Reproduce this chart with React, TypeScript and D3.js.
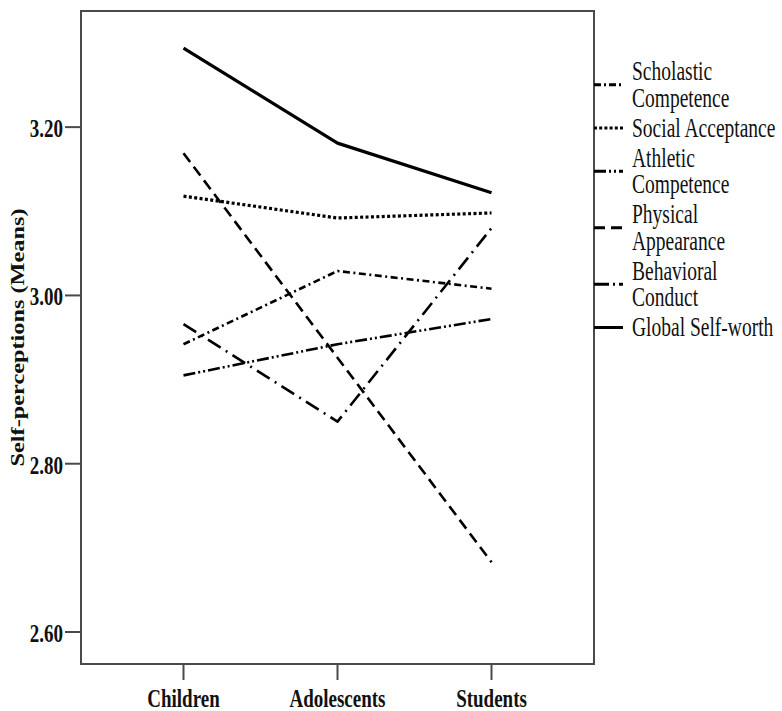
import React from "react";
import * as d3 from "d3";

const groups = ["Children", "Adolescents", "Students"];
const scholastic = [2.942, 3.029, 3.008];
const social = [3.118, 3.092, 3.098];
const athletic = [2.905, 2.942, 2.972];
const physical = [3.169, 2.926, 2.683];
const behavioral = [2.966, 2.85, 3.08];
const globalSelf = [3.294, 3.181, 3.122];
const yTicks = [2.6, 2.8, 3.0, 3.2];
const legendLabels = [
  ["Scholastic", "Competence"],
  ["Social Acceptance"],
  ["Athletic", "Competence"],
  ["Physical", "Appearance"],
  ["Behavioral", "Conduct"],
  ["Global Self-worth"],
];
const yTitle = "Self-perceptions (Means)";

const seriesValues = [scholastic, social, athletic, physical, behavioral, globalSelf];
const seriesStyles = [
  { dash: "7,3.5,2,3.5", width: 2.6, legendDash: "7,3,2,3" },
  { dash: "3,2.4", width: 3.2, legendDash: "3,2.2" },
  { dash: "12,3,2,3,2,3", width: 2.6, legendDash: "12,3,2,3,2,3" },
  { dash: "11,6", width: 2.6, legendDash: "11,6" },
  { dash: "15,6,2,6", width: 2.6, legendDash: "15,4,2,4" },
  { dash: "none", width: 3.2, legendDash: "none" },
];

const W = 782;
const H = 711;
const left = 81;
const right = 594;
const top = 11;
const bottom = 664;
const STRETCH = 1.35;
const ink = "#111";
const frame = "#4a4a4a";

export default function App() {
  const x = d3.scalePoint<string>().domain(groups).range([left, right]).padding(0.6656);
  const y = d3.scaleLinear().domain([2.562, 3.338]).range([bottom, top]);
  const line = d3
    .line<number>()
    .x((_, i) => x(groups[i]) as number)
    .y((d) => y(d));

  let cur = 80;
  const legendRows = legendLabels.map((lines) => {
    const baselines = lines.map((_, i) => cur + i * 26.5);
    cur = baselines[baselines.length - 1] + 30;
    const symY = d3.mean(baselines)! - 8.5;
    return { lines, baselines, symY };
  });

  return (
    <svg
      width={W}
      height={H}
      style={{ position: "absolute", left: 0, top: 0, background: "#fff" }}
    >
      <rect x={0} y={0} width={W} height={H} fill="#fff" />
      {/* series lines */}
      {seriesValues.map((vals, i) => (
        <path
          key={i}
          d={line(vals) || ""}
          fill="none"
          stroke="#000"
          strokeWidth={seriesStyles[i].width}
          strokeDasharray={seriesStyles[i].dash}
          strokeLinejoin="round"
        />
      ))}
      {/* frame */}
      <rect
        x={left}
        y={top}
        width={right - left}
        height={bottom - top}
        fill="none"
        stroke={frame}
        strokeWidth={2}
      />
      {/* y ticks */}
      {yTicks.map((t) => (
        <g key={t}>
          <line x1={left - 16} x2={left} y1={y(t)} y2={y(t)} stroke={frame} strokeWidth={2} />
          <text
            transform={`translate(${left - 18},${y(t) + 10}) scale(1,${STRETCH})`}
            textAnchor="end"
            fontFamily="'Liberation Serif', 'Times New Roman', serif"
            fontWeight="bold"
            fontSize={19}
            fill={ink}
          >
            {t.toFixed(2)}
          </text>
        </g>
      ))}
      {/* x ticks */}
      {groups.map((g) => (
        <g key={g}>
          <line x1={x(g)} x2={x(g)} y1={bottom} y2={bottom + 16} stroke={frame} strokeWidth={2} />
          <text
            transform={`translate(${x(g)},${706.5}) scale(1,${STRETCH})`}
            textAnchor="middle"
            fontFamily="'Liberation Serif', 'Times New Roman', serif"
            fontWeight="bold"
            fontSize={19}
            fill={ink}
          >
            {g}
          </text>
        </g>
      ))}
      {/* y title */}
      <text
        transform={`translate(24,${(top + bottom) / 2}) rotate(-90) scale(${STRETCH},1)`}
        textAnchor="middle"
        fontFamily="'Liberation Serif', 'Times New Roman', serif"
        fontWeight="bold"
        fontSize={18}
        fill={ink}
      >
        {yTitle}
      </text>
      {/* legend */}
      {legendRows.map((row, i) => (
        <g key={i}>
          <line
            x1={right}
            x2={623}
            y1={row.symY}
            y2={row.symY}
            stroke="#000"
            strokeWidth={3}
            strokeDasharray={seriesStyles[i].legendDash}
          />
          {row.lines.map((ln, j) => (
            <text
              key={j}
              transform={`translate(632,${row.baselines[j]}) scale(1,${STRETCH})`}
              fontFamily="'Liberation Serif', 'Times New Roman', serif"
              fontSize={19.5}
              fill={ink}
            >
              {ln}
            </text>
          ))}
        </g>
      ))}
    </svg>
  );
}
